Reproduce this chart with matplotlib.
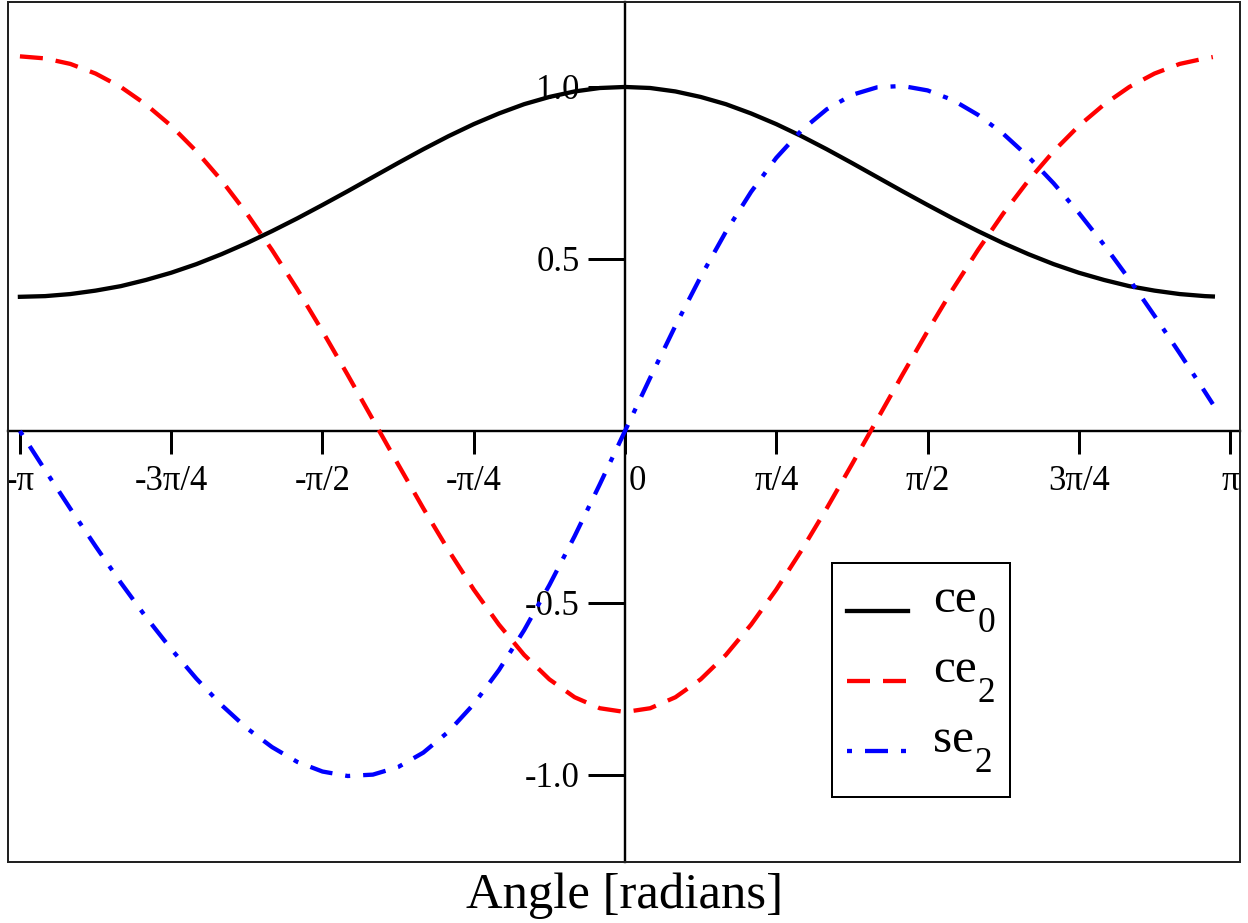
import numpy as np
import matplotlib
matplotlib.use("Agg")
import matplotlib.pyplot as plt
from matplotlib.patches import Rectangle
from matplotlib.lines import Line2D
from matplotlib.transforms import Affine2D, ScaledTranslation

plt.rcParams['font.family'] = ['Liberation Serif', 'DejaVu Serif']
plt.rcParams['axes.unicode_minus'] = False
plt.rcParams['lines.scale_dashes'] = False

# ---- data ----
angle_steps = list(range(-24, 24))          # multiples of pi/24
angle_last = 3.052                          # last sample (radians)

ce0 = [0.390, 0.392, 0.398, 0.408, 0.421, 0.439, 0.460, 0.485, 0.514, 0.546, 0.581, 0.618,
       0.657, 0.697, 0.738, 0.779, 0.819, 0.857, 0.892, 0.923, 0.950, 0.971, 0.987, 0.997,
       1.000, 0.997, 0.987, 0.971, 0.950, 0.923, 0.892, 0.857, 0.819, 0.779, 0.738, 0.697,
       0.657, 0.618, 0.581, 0.546, 0.514, 0.485, 0.460, 0.439, 0.421, 0.408, 0.398, 0.392,
       0.391]

ce2 = [1.089, 1.083, 1.067, 1.039, 1.000, 0.949, 0.887, 0.813, 0.728, 0.632, 0.526, 0.412,
       0.290, 0.163, 0.033, -0.097, -0.225, -0.347, -0.461, -0.563, -0.651, -0.722, -0.774, -0.806,
       -0.817, -0.806, -0.774, -0.722, -0.651, -0.563, -0.461, -0.347, -0.225, -0.097, 0.033, 0.163,
       0.290, 0.412, 0.526, 0.632, 0.728, 0.813, 0.887, 0.949, 1.000, 1.039, 1.067, 1.083,
       1.087]

se2 = [0.000, -0.114, -0.226, -0.335, -0.441, -0.541, -0.634, -0.720, -0.797, -0.864, -0.919, -0.962,
       -0.990, -1.003, -0.999, -0.977, -0.935, -0.874, -0.794, -0.695, -0.579, -0.448, -0.306, -0.155,
       0.000, 0.155, 0.306, 0.448, 0.579, 0.695, 0.794, 0.874, 0.935, 0.977, 0.999, 1.003,
       0.990, 0.962, 0.919, 0.864, 0.797, 0.720, 0.634, 0.541, 0.441, 0.335, 0.226, 0.114,
       0.078]

series_names = ['ce', 'ce', 'se']
series_subscripts = ['0', '2', '2']

xtick_values = [-np.pi, -3 * np.pi / 4, -np.pi / 2, -np.pi / 4, 0,
                np.pi / 4, np.pi / 2, 3 * np.pi / 4, np.pi]
xtick_labels = ['-π', '-3π/4', '-π/2', '-π/4', '0', 'π/4', 'π/2', '3π/4', 'π']
ytick_values = [-1.0, -0.5, 0.5, 1.0]
ytick_labels = ['-1.0', '-0.5', '0.5', '1.0']
xlabel = 'Angle [radians]'

angle = np.append(np.array(angle_steps) * np.pi / 24, angle_last)
series_values = [ce0, ce2, se2]

# ---- styles ----
W, H = 1248, 923
px = 72 / 100  # points per pixel at dpi 100
lw = 4.3 * px
colors = ['black', '#ff0000', '#0000ff']
styles = ['-', (0, (23 * px, 13 * px)), (0, (5 * px, 13 * px, 23 * px, 13 * px))]

fig = plt.figure(figsize=(W / 100, H / 100), dpi=100)
ax = fig.add_axes([8 / W, (H - 862) / H, 1232 / W, 860 / H])

for vals, c, s, n, sub in zip(series_values, colors, styles, series_names, series_subscripts):
    ax.plot(angle, vals, color=c, lw=lw, ls=s, label=n + sub, zorder=3)

ax.set_xlim(-3.2035, 3.193)
ax.set_ylim(-1.253, 1.247)

for side in ['top', 'right']:
    ax.spines[side].set_visible(False)
ax.spines['left'].set_position('zero')
ax.spines['bottom'].set_position('zero')
for side in ['left', 'bottom']:
    ax.spines[side].set_linewidth(2.4 * px)
    ax.spines[side].set_color('black')

ax.set_xticks(xtick_values)
ax.set_xticklabels(xtick_labels, fontsize=25)
ax.set_yticks(ytick_values)
ax.set_yticklabels(ytick_labels, fontsize=25)
ax.tick_params(axis='x', direction='out', length=23 * px, width=3 * px, pad=8)
ax.tick_params(axis='y', direction='out', length=37 * px, width=3 * px, pad=6)
for lbl in ax.get_xticklabels():
    if lbl.get_text() == '0':
        lbl.set_horizontalalignment('left')
        lbl.set_transform(lbl.get_transform() +
                          ScaledTranslation(4 / 100, 0, fig.dpi_scale_trans))

# outer frame
ax.add_patch(Rectangle((0, 0), 1, 1, transform=ax.transAxes, fill=False,
                       lw=2 * px, ec='#222222', clip_on=False, zorder=5))

fig.text(625 / W, (H - 908) / H, xlabel, fontsize=36.5, ha='center', va='baseline')

# ---- legend (drawn in figure pixel coordinates, top-left origin) ----
pix = Affine2D().scale(1 / W, -1 / H).translate(0, 1) + fig.transFigure
leg_box = (832, 563, 1010, 797)
fig.patches.append(Rectangle((leg_box[0], leg_box[1]), leg_box[2] - leg_box[0],
                             leg_box[3] - leg_box[1], transform=pix, fill=True,
                             fc='white', ec='black', lw=2 * px, zorder=6))
row_y = [611, 681, 751]
handle_x = (847, 908)
text_x = 933
name_texts = []
for y, c, s, n in zip(row_y, colors, styles, series_names):
    fig.lines.append(Line2D(handle_x, (y, y), transform=pix, color=c, lw=lw, ls=s, zorder=7))
    t = fig.text(text_x, y + 1, n, transform=pix, fontsize=35.5, ha='left',
                 va='baseline', zorder=7)
    name_texts.append(t)

fig.canvas.draw()
renderer = fig.canvas.get_renderer()
for t, y, sub in zip(name_texts, row_y, series_subscripts):
    bb = t.get_window_extent(renderer)
    fig.text(bb.x1 + 1, y + 21, sub, transform=pix, fontsize=25.5, ha='left',
             va='baseline', zorder=7)

fig.savefig('out.png', dpi=100)
